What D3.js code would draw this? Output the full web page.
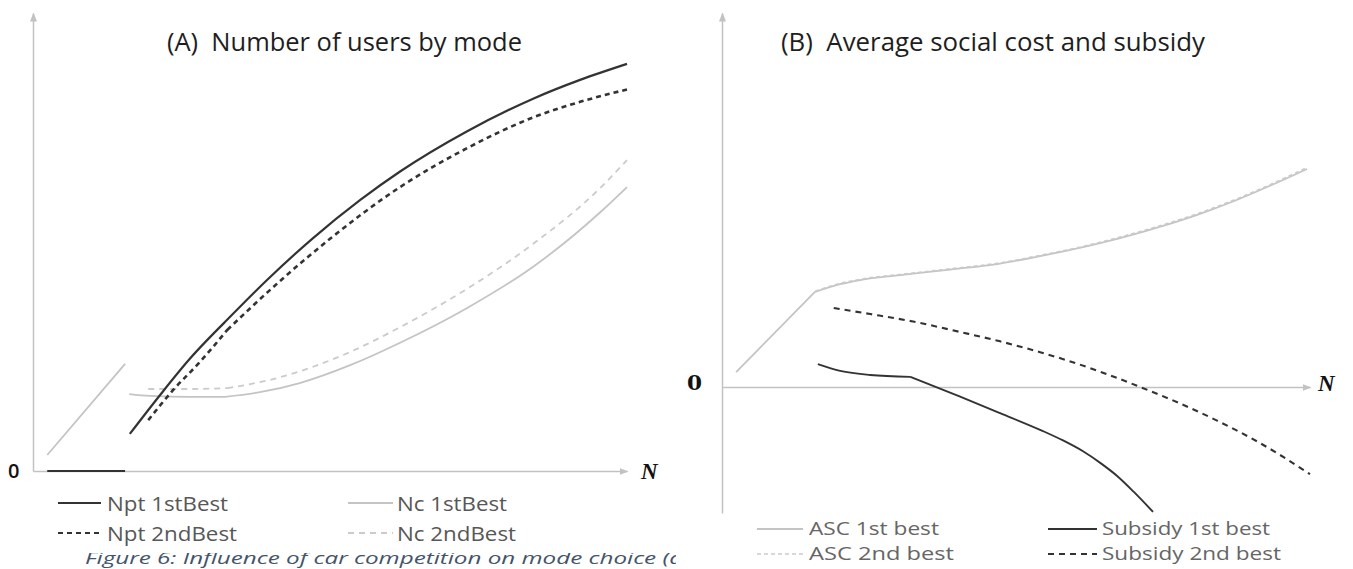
<!DOCTYPE html>
<html>
<head>
<meta charset="utf-8">
<script src="https://cdn.jsdelivr.net/npm/d3@7"></script>
<style>
  body { margin: 0; background: #fff; }
  svg { display: block; }
  text { white-space: pre; }
</style>
</head>
<body>
<svg id="chart" width="1353" height="569"></svg>
<script>
// ---- Panel A: number of users by mode (N on x, users on y) ----
// Each series is a list of continuous pieces of [N, value] points.
const nptFirstBest = [
  [[2.4, 0], [15.5, 0]],
  [[16.3, 8.1], [21.4, 16.6], [26.4, 24.5], [32.3, 32.5]],
  [[32.3, 32.5], [39.4, 41.7], [47.0, 50.7], [55.1, 59.2], [61.8, 65.4],
   [73.1, 74.2], [84.2, 81.3], [92.1, 85.4], [100, 88.9]]
];
const nptSecondBest = [
  [[19.4, 11.1], [23.6, 17.7], [28.1, 23.8], [32.7, 30.8]],
  [[32.7, 30.8], [41.6, 41.5], [50.0, 50.7], [61.8, 62.0], [73.1, 70.5],
   [84.2, 77.2], [92.1, 80.6], [100, 83.3]]
];
const ncFirstBest = [
  [[2.4, 3.5], [15.5, 23.4]],
  [[16.2, 16.8], [19.7, 16.4], [26.4, 16.2], [32.3, 16.2]],
  [[32.3, 16.2], [38.2, 17.2], [44.9, 19.2], [53.4, 23.1], [61.8, 28.0],
   [73.1, 35.6], [84.2, 44.6], [95.5, 56.5], [100, 62.0]]
];
const ncSecondBest = [
  [[19.4, 17.9], [26.4, 17.9], [32.7, 18.1]],
  [[32.7, 18.1], [39.9, 19.9], [46.6, 22.5], [53.4, 26.0], [61.8, 31.4],
   [73.1, 39.8], [84.2, 49.6], [95.5, 61.8], [100, 67.9]]
];

// ---- Panel B: average social cost and subsidy ----
const ascFirstBest = [
  [[2.4, 4.0], [15.8, 25.4]],
  [[15.8, 25.4], [20.1, 27.5], [23.5, 28.6], [30.3, 29.9], [38.8, 31.4],
   [47.3, 33.0], [54.1, 35.0], [61.4, 37.4], [67.7, 39.8], [75.7, 43.4],
   [81.3, 46.3], [86.9, 49.6], [93.2, 53.8], [99.5, 58.3]]
];
const ascSecondBest = [
  [[15.8, 25.6], [20.1, 27.7], [23.5, 28.8], [30.3, 30.1], [38.8, 31.6],
   [47.3, 33.2], [54.1, 35.2], [61.4, 37.6], [67.7, 40.1], [75.7, 43.7],
   [81.3, 46.6], [86.9, 49.9], [93.2, 54.1], [99.5, 58.7]]
];
const subsidyFirstBest = [
  [[16.3, 6.1], [20.1, 4.3], [25.2, 3.2], [32.0, 2.7]],
  [[32.0, 2.7], [40.5, -2.6], [47.3, -7.0], [54.3, -11.6], [58.0, -14.3],
   [61.4, -17.2], [64.5, -20.5], [67.2, -23.8], [70.0, -28.0], [73.3, -33.4]]
];
const subsidySecondBest = [
  [[19.0, 21.1], [25.2, 19.5], [32.5, 17.5], [40.5, 14.7], [47.3, 12.2],
   [54.1, 9.3], [58.7, 7.1], [64.3, 4.1], [71.1, 0], [77.9, -4.4],
   [84.2, -9.0], [91.5, -15.0], [100, -23.3]]
];

// Text
const titleA = "(A)  Number of users by mode";
const titleB = "(B)  Average social cost and subsidy";
const legendLabelsA = ["Npt 1stBest", "Npt 2ndBest", "Nc 1stBest", "Nc 2ndBest"];
const legendLabelsB = ["ASC 1st best", "ASC 2nd best", "Subsidy 1st best", "Subsidy 2nd best"];
const originLabel = "0";
const axisLabel = "N";
const captionText = "Figure 6: Influence of car competition on mode choice (a";

// ---- Drawing ----
const svg = d3.select("#chart");
const AXIS = "#c2c2c2";
const DARK = "#333333";
const LIGHT = "#c4c4c4";

const defs = svg.append("defs");
defs.append("marker")
  .attr("id", "arrow")
  .attr("markerUnits", "userSpaceOnUse")
  .attr("markerWidth", 9).attr("markerHeight", 8)
  .attr("refX", 8).attr("refY", 4)
  .attr("orient", "auto")
  .append("path").attr("d", "M0,0.5 L9,4 L0,7.5 Z").attr("fill", AXIS);
defs.append("clipPath").attr("id", "captionClip")
  .append("rect").attr("x", 0).attr("y", 553).attr("width", 676).attr("height", 16);

const xA = d3.scaleLinear().domain([0, 100]).range([33, 627]);
const yA = d3.scaleLinear().domain([0, 100]).range([471, 13]);
const xB = d3.scaleLinear().domain([0, 100]).range([722, 1310]);
const yB = d3.scaleLinear().domain([-33.7, 100]).range([513, 13]);

function drawAxes(x, y) {
  const gx = svg.append("g").attr("transform", `translate(0,${y(0)})`)
    .call(d3.axisBottom(x).tickValues([]).tickSizeOuter(0));
  gx.select(".domain").attr("stroke", AXIS).attr("stroke-width", 1.5).attr("marker-end", "url(#arrow)");
  const gy = svg.append("g").attr("transform", `translate(${x(0)},0)`)
    .call(d3.axisLeft(y).tickValues([]).tickSizeOuter(0));
  gy.select(".domain").attr("stroke", AXIS).attr("stroke-width", 1.5).attr("marker-end", "url(#arrow)");
}
drawAxes(xA, yA);
drawAxes(xB, yB);

function drawSeries(pieces, x, y, style) {
  const gen = d3.line().x(d => x(d[0])).y(d => y(d[1])).curve(d3.curveMonotoneX);
  svg.append("path")
    .attr("d", pieces.map(p => gen(p)).join(""))
    .attr("fill", "none")
    .attr("stroke", style.color)
    .attr("stroke-width", style.width)
    .attr("stroke-dasharray", style.dash || null)
    .attr("stroke-linejoin", "round");
}

const styleA = [
  { color: DARK, width: 2.2 },
  { color: DARK, width: 2.6, dash: "5,4" },
  { color: LIGHT, width: 1.8 },
  { color: "#cbcbcb", width: 1.8, dash: "6,5" }
];
const styleB = [
  { color: LIGHT, width: 1.8 },
  { color: "#cbcbcb", width: 1.5, dash: "4,3" },
  { color: DARK, width: 1.9 },
  { color: DARK, width: 2.1, dash: "6,5" }
];

drawSeries(ncFirstBest, xA, yA, styleA[2]);
drawSeries(ncSecondBest, xA, yA, styleA[3]);
drawSeries(nptFirstBest, xA, yA, styleA[0]);
drawSeries(nptSecondBest, xA, yA, styleA[1]);

drawSeries(ascFirstBest, xB, yB, styleB[0]);
drawSeries(ascSecondBest, xB, yB, styleB[1]);
drawSeries(subsidyFirstBest, xB, yB, styleB[2]);
drawSeries(subsidySecondBest, xB, yB, styleB[3]);

// Titles
svg.append("text").attr("x", 167).attr("y", 51).text(titleA)
  .attr("font-family", "'Open Sans', sans-serif").attr("font-size", 26).attr("fill", "#1e1e1e")
  .attr("textLength", 355).attr("lengthAdjust", "spacingAndGlyphs");
svg.append("text").attr("x", 781).attr("y", 51).text(titleB)
  .attr("font-family", "'Open Sans', sans-serif").attr("font-size", 26).attr("fill", "#1e1e1e")
  .attr("textLength", 424).attr("lengthAdjust", "spacingAndGlyphs");

// Origin and axis labels
svg.append("text").attr("x", 8).attr("y", yA(0) + 7).text(originLabel)
  .attr("font-family", "'Open Sans', sans-serif").attr("font-weight", 600)
  .attr("font-size", 20).attr("fill", "#111");
svg.append("text").attr("x", 687).attr("y", yB(0) + 3).text(originLabel)
  .attr("font-family", "'DejaVu Serif', serif").attr("font-weight", "bold")
  .attr("font-size", 20).attr("fill", "#111")
  .attr("textLength", 15).attr("lengthAdjust", "spacingAndGlyphs");
function nText(xp, yp) {
  svg.append("text").attr("x", xp).attr("y", yp).text(axisLabel)
    .attr("font-family", "'Liberation Serif', serif").attr("font-weight", "bold")
    .attr("font-style", "italic").attr("font-size", 23).attr("fill", "#111");
}
nText(641, yA(0) + 8);
nText(1318, yB(0) + 4);

// Legends
function legendItem(x1, x2, yLine, label, style, textX, size, color, tl) {
  svg.append("line").attr("x1", x1).attr("x2", x2).attr("y1", yLine).attr("y2", yLine)
    .attr("stroke", style.color).attr("stroke-width", Math.min(style.width, 2))
    .attr("stroke-dasharray", style.dash || null);
  svg.append("text").attr("x", textX).attr("y", yLine + size * 0.37).text(label)
    .attr("font-family", "'Open Sans', sans-serif").attr("font-size", size).attr("fill", color)
    .attr("textLength", tl).attr("lengthAdjust", "spacingAndGlyphs");
}
const legendColorA = "#575757";
legendItem(58, 101, 503, legendLabelsA[0], styleA[0], 107, 20.5, legendColorA, 121);
legendItem(58, 101, 533, legendLabelsA[1], styleA[1], 107, 20.5, legendColorA, 130);
legendItem(348, 393, 503, legendLabelsA[2], styleA[2], 397, 20.5, legendColorA, 110);
legendItem(348, 393, 533, legendLabelsA[3], styleA[3], 397, 20.5, legendColorA, 119);

const legendColorB = "#666666";
legendItem(757, 803, 529, legendLabelsB[0], styleB[0], 809, 17.5, legendColorB, 130);
legendItem(757, 803, 554, legendLabelsB[1], styleB[1], 809, 17.5, legendColorB, 145);
legendItem(1048, 1097, 529, legendLabelsB[2], styleB[2], 1102, 17.5, legendColorB, 168);
legendItem(1048, 1097, 554, legendLabelsB[3], styleB[3], 1102, 17.5, legendColorB, 179);

// Caption line, only its lower part shows below the legend
svg.append("text").attr("x", 85).attr("y", 564.2).text(captionText)
  .attr("clip-path", "url(#captionClip)")
  .attr("font-family", "'Open Sans', sans-serif").attr("font-style", "italic")
  .attr("font-size", 16).attr("fill", "#44546a")
  .attr("textLength", 598).attr("lengthAdjust", "spacingAndGlyphs");
</script>
</body>
</html>
